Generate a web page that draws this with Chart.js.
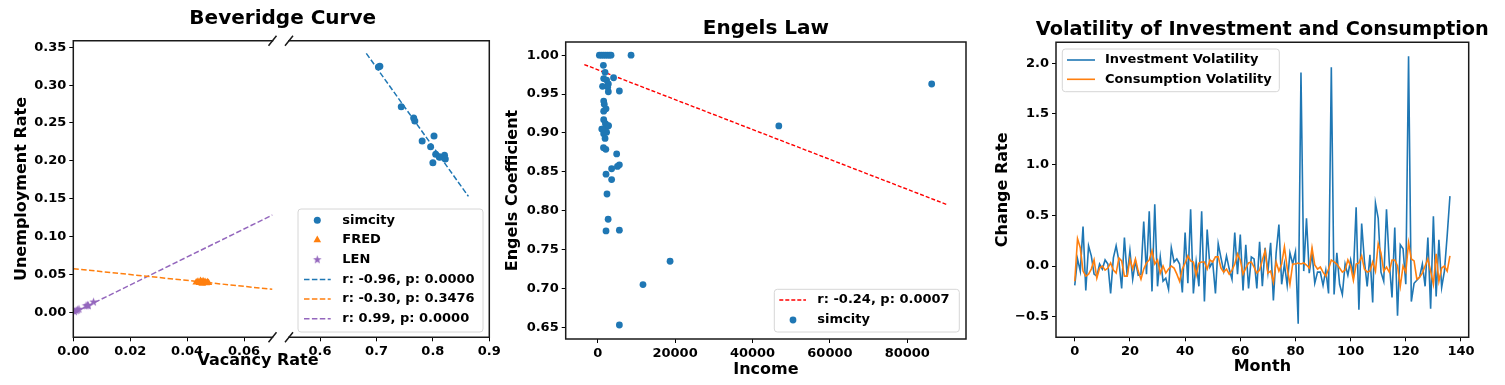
<!DOCTYPE html>
<html>
<head>
<meta charset="utf-8">
<script src="https://cdn.jsdelivr.net/npm/chart.js@4.4.1/dist/chart.umd.min.js"></script>
<style>
  body { margin: 0; background: #fff; }
  #wrap { position: relative; width: 1505px; height: 385px; overflow: hidden; background: #fff; }
  canvas { position: absolute; top: 0; }
</style>
</head>
<body>
<div id="wrap">
  <canvas id="bevLeft" width="510" height="385" style="left:0;width:510px;height:385px"></canvas>
  <canvas id="bevRight" width="510" height="385" style="left:0;width:510px;height:385px"></canvas>
  <canvas id="engels" width="480" height="385" style="left:500px;width:480px;height:385px"></canvas>
  <canvas id="vol" width="520" height="385" style="left:985px;width:520px;height:385px"></canvas>
</div>
<script>
// ---- Beveridge curve data ----
const simcityVacancy = [0.706, 0.7035, 0.744, 0.766, 0.768, 0.781, 0.802, 0.796, 0.805, 0.812, 0.8206, 0.822, 0.800, 0.8113];
const simcityUnemp   = [0.325, 0.324, 0.2716, 0.2566, 0.2527, 0.2263, 0.2329, 0.2187, 0.2087, 0.2047, 0.2074, 0.2025, 0.1976, 0.2055];
const fredVacancy = [0.0432, 0.0438, 0.0443, 0.0447, 0.0450, 0.0453, 0.0456, 0.0460, 0.0463, 0.0467, 0.0471, 0.0475];
const fredUnemp   = [0.0395, 0.0405, 0.0388, 0.0415, 0.0398, 0.0380, 0.0410, 0.0392, 0.0402, 0.0385, 0.0396, 0.0388];
const lenVacancy = [0.0004, 0.0010, 0.0015, 0.0020, 0.0045, 0.0050, 0.0053, 0.0071];
const lenUnemp   = [0.0008, 0.0020, 0.0030, 0.0040, 0.0085, 0.0092, 0.0086, 0.0135];
const simcityFitX = [0.682, 0.863], simcityFitY = [0.342, 0.153];
const fredFitX = [0.0, 0.07], fredFitY = [0.0576, 0.0303];
const lenFitX = [0.0, 0.07], lenFitY = [-0.001, 0.1285];
const bevYTicks = [0.00, 0.05, 0.10, 0.15, 0.20, 0.25, 0.30, 0.35];
const bevLeftXTicks = [0.00, 0.02, 0.04, 0.06];
const bevRightXTicks = [0.6, 0.7, 0.8, 0.9];

// ---- Engels law data ----
const income = [431, 948, 1466, 1983, 2500, 3017, 3448, 8620, 1466, 1900, 4100, 1550, 2300, 2750, 1250, 2600,
  2750, 5600, 1550, 1700, 2150, 1550, 1550, 2000, 2700, 1050, 1900, 2300, 1550, 1900, 1500, 2100, 4900, 5600,
  5100, 3600, 2150, 3600, 2400, 2700, 2150, 5600, 18700, 11700, 5600, 46800, 86300, 2800, 1200];
const engelsCoef = [1.000, 1.000, 1.000, 1.000, 1.000, 1.000, 1.000, 1.000, 0.987, 0.978, 0.971, 0.970, 0.968, 0.963, 0.960, 0.959,
  0.953, 0.954, 0.941, 0.937, 0.931, 0.928, 0.917, 0.912, 0.909, 0.905, 0.904, 0.901, 0.899, 0.893, 0.881, 0.879, 0.873, 0.859,
  0.857, 0.854, 0.847, 0.840, 0.8215, 0.789, 0.774, 0.775, 0.735, 0.705, 0.653, 0.909, 0.963, 0.9095, 0.905];
const engelsFitX = [-3460, 90440], engelsFitY = [0.988, 0.8075];
const engelsXTicks = [0, 20000, 40000, 60000, 80000];
const engelsYTicks = [0.65, 0.70, 0.75, 0.80, 0.85, 0.90, 0.95, 1.00];

// ---- Volatility data (month 0..136) ----
const investmentVol = [
  -0.19, 0.07, -0.05, 0.39, -0.24, 0.20, 0.10, -0.08, -0.10, 0.02,
  -0.03, 0.06, 0.02, -0.27, 0.08, 0.20, 0.05, -0.22, 0.28, -0.10,
  0.15, -0.13, 0.05, -0.09, -0.08, 0.44, -0.08, 0.54, -0.25, 0.61,
  -0.20, 0.09, -0.15, -0.12, -0.23, 0.18, 0.04, 0.07, 0.02, -0.26,
  0.33, -0.17, 0.56, -0.27, 0.04, -0.20, 0.54, -0.35, 0.36, -0.01,
  0.04, -0.27, 0.22, 0.08, -0.05, 0.10, -0.03, -0.13, 0.33, -0.08,
  0.31, -0.24, 0.21, -0.22, 0.09, 0.07, -0.22, 0.24, -0.20, 0.18,
  -0.06, 0.23, -0.34, 0.13, 0.41, -0.18, 0.02, -0.19, 0.13, 0.02,
  0.14, -0.57, 1.91, -0.05, 0.47, -0.07, 0.13, -0.17, -0.06, -0.06,
  -0.19, -0.04, -0.27, 1.96, -0.28, 0.13, -0.18, -0.28, 0.02, -0.09,
  0.06, -0.08, 0.58, -0.43, 0.42, 0.05, -0.20, 0.11, -0.36, 0.62,
  0.47, -0.06, -0.15, 0.56, 0.04, -0.31, 0.38, -0.49, 0.21, 0.17,
  -0.18, 2.07, -0.35, -0.17, -0.14, -0.11, 0.02, -0.20, 0.28, -0.42,
  0.49, -0.30, 0.26, -0.21, -0.05, 0.30, 0.69];
const consumptionVol = [
  -0.15, 0.27, 0.18, -0.05, -0.10, -0.08, -0.03, 0.06, -0.12, -0.02,
  0.00, -0.04, -0.02, 0.03, -0.04, -0.07, 0.08, 0.05, -0.10, -0.10,
  0.07, -0.03, 0.07, -0.05, -0.13, -0.03, 0.03, 0.06, 0.15, 0.02,
  0.06, -0.07, 0.00, -0.07, -0.03, 0.00, -0.02, -0.08, -0.15, -0.03,
  0.03, 0.10, 0.05, 0.04, -0.09, 0.03, 0.04, 0.04, -0.03, 0.06,
  0.04, 0.09, 0.09, -0.02, -0.06, -0.03, -0.08, -0.04, 0.02, 0.12,
  0.06, -0.08, -0.02, 0.03, 0.04, -0.01, -0.07, -0.04, 0.06, 0.15,
  -0.07, -0.05, -0.16, 0.04, -0.05, 0.02, 0.19, -0.02, -0.18, 0.02,
  0.02, 0.03, 0.02, 0.03, 0.01, -0.02, 0.18, 0.01, -0.03, -0.01,
  -0.06, -0.10, -0.03, 0.06, 0.04, 0.02, -0.02, -0.06, -0.04, 0.06,
  0.00, -0.14, 0.02, 0.03, 0.10, -0.03, -0.06, -0.05, 0.04, -0.05,
  0.22, 0.13, -0.05, -0.01, -0.06, 0.06, 0.06, 0.00, -0.20, 0.00,
  -0.06, 0.23, 0.07, 0.05, -0.13, -0.11, -0.07, 0.00, 0.07, -0.05,
  -0.18, 0.12, -0.15, -0.02, 0.00, -0.05, 0.10];
const months = investmentVol.map((_, i) => i);
const volXTicks = [0, 20, 40, 60, 80, 100, 120, 140];
const volYTicks = [-0.5, 0.0, 0.5, 1.0, 1.5, 2.0];

// ---- styling ----
const FONT = "'DejaVu Sans', sans-serif";
Chart.defaults.font.family = FONT;
Chart.defaults.font.weight = 'bold';
Chart.defaults.color = '#000';
const BLUE = '#1f77b4', ORANGE = '#ff7f0e', PURPLE = '#9467bd', RED = '#ff0000';

function starImage(color, r) {
  const c = document.createElement('canvas');
  const s = Math.ceil(r * 2 + 2);
  c.width = s; c.height = s;
  const g = c.getContext('2d');
  g.translate(s / 2, s / 2);
  g.beginPath();
  for (let i = 0; i < 10; i++) {
    const rr = i % 2 ? r * 0.42 : r;
    const a = -Math.PI / 2 + i * Math.PI / 5;
    g.lineTo(Math.cos(a) * rr, Math.sin(a) * rr);
  }
  g.closePath();
  g.fillStyle = color;
  g.fill();
  return c;
}
const starPurple = starImage(PURPLE, 4.5);

const toPts = (xs, ys) => xs.map((x, i) => ({ x: x, y: ys[i] }));

function scatterDs(label, xs, ys, color, style, r) {
  return { label, data: toPts(xs, ys), showLine: false, pointStyle: style, pointRadius: r,
    backgroundColor: color, borderColor: color, pointBorderWidth: 0, borderWidth: 0, order: 1 };
}
function lineDs(label, xs, ys, color, width, dash) {
  return { label, data: toPts(xs, ys), showLine: true, pointRadius: 0, borderColor: color,
    backgroundColor: color, borderWidth: width, borderDash: dash, fill: false, tension: 0, order: 2 };
}

function linearAxis(o) {
  return {
    type: 'linear', min: o.min, max: o.max, display: o.display !== false,
    afterBuildTicks: s => { s.ticks = o.ticks.map(v => ({ value: v })); },
    afterFit: s => { if (s.isHorizontal()) s.height = o.size; else s.width = o.size; },
    ticks: { autoSkip: false, maxRotation: 0, minRotation: 0, padding: o.tickPad || 3, color: '#000',
      font: { size: 13, weight: 'bold' }, callback: v => o.format(v) },
    grid: { display: true, drawOnChartArea: false, drawTicks: true, tickLength: 4, color: '#000', lineWidth: 1 },
    border: { display: false },
    title: o.title ? { display: true, text: o.title, color: '#000', font: { size: 16, weight: 'bold' }, padding: o.titlePad }
                   : { display: false }
  };
}
const minus = s => s.replace('-', '\u2212');

function makeFrame(cfg) {
  return {
    id: 'frame',
    afterDraw(chart) {
      const { ctx, chartArea: a } = chart;
      const s = cfg.sides || 'tlbr';
      ctx.save();
      ctx.strokeStyle = '#1a1a1a';
      ctx.lineWidth = 1.5;
      ctx.lineCap = 'square';
      ctx.beginPath();
      if (s.includes('t')) { ctx.moveTo(a.left, a.top); ctx.lineTo(a.right, a.top); }
      if (s.includes('b')) { ctx.moveTo(a.left, a.bottom); ctx.lineTo(a.right, a.bottom); }
      if (s.includes('l')) { ctx.moveTo(a.left, a.top); ctx.lineTo(a.left, a.bottom); }
      if (s.includes('r')) { ctx.moveTo(a.right, a.top); ctx.lineTo(a.right, a.bottom); }
      ctx.stroke();
      if (cfg.breakSide) {
        const x = cfg.breakSide === 'right' ? a.right : a.left;
        ctx.lineCap = 'butt';
        ctx.beginPath();
        [a.top, a.bottom].forEach(y => { ctx.moveTo(x - 4, y + 5); ctx.lineTo(x + 4, y - 5); });
        ctx.stroke();
      }
      (cfg.texts || []).forEach(t => {
        ctx.font = 'bold ' + t.size + 'px ' + FONT;
        ctx.fillStyle = '#000';
        ctx.textAlign = 'center';
        ctx.textBaseline = 'middle';
        ctx.fillText(t.text, t.x, t.y);
      });
      ctx.restore();
    }
  };
}

function makeLegend(cfg) {
  return {
    id: 'boxLegend',
    afterDraw(chart) {
      const ctx = chart.ctx;
      ctx.save();
      const { x, y, w, h } = cfg.box, r = 3;
      ctx.beginPath();
      ctx.moveTo(x + r, y);
      ctx.arcTo(x + w, y, x + w, y + h, r);
      ctx.arcTo(x + w, y + h, x, y + h, r);
      ctx.arcTo(x, y + h, x, y, r);
      ctx.arcTo(x, y, x + w, y, r);
      ctx.closePath();
      ctx.fillStyle = 'rgba(255,255,255,0.8)';
      ctx.fill();
      ctx.strokeStyle = '#d6d6d6';
      ctx.lineWidth = 1;
      ctx.stroke();
      ctx.font = 'bold 13px ' + FONT;
      ctx.textAlign = 'left';
      ctx.textBaseline = 'middle';
      cfg.items.forEach((ds, i) => {
        const ry = cfg.y0 + i * cfg.rowH;
        if (ds.showLine) {
          ctx.strokeStyle = ds.borderColor;
          ctx.lineWidth = ds.borderWidth;
          ctx.setLineDash(ds.borderDash || []);
          ctx.beginPath();
          ctx.moveTo(cfg.lineX0, ry);
          ctx.lineTo(cfg.lineX1, ry);
          ctx.stroke();
          ctx.setLineDash([]);
        } else if (typeof ds.pointStyle === 'object') {
          const im = ds.pointStyle;
          ctx.drawImage(im, cfg.markX - im.width / 2, ry - im.height / 2);
        } else {
          ctx.fillStyle = ds.backgroundColor;
          ctx.beginPath();
          const rr = ds.pointRadius;
          if (ds.pointStyle === 'triangle') {
            for (let k = 0; k < 3; k++) {
              const a = -Math.PI / 2 + k * 2 * Math.PI / 3;
              ctx.lineTo(cfg.markX + Math.cos(a) * rr, ry + Math.sin(a) * rr);
            }
            ctx.closePath();
          } else {
            ctx.arc(cfg.markX, ry, rr, 0, Math.PI * 2);
          }
          ctx.fill();
        }
        ctx.fillStyle = '#000';
        ctx.fillText(ds.label, cfg.textX, ry);
      });
      ctx.restore();
    }
  };
}

// ---- Beveridge curve (broken x axis: two overlaid charts) ----
const dsSimcity = scatterDs('simcity', simcityVacancy, simcityUnemp, BLUE, 'circle', 3.5);
const dsFred = scatterDs('FRED', fredVacancy, fredUnemp, ORANGE, 'triangle', 4.4);
const dsLen = scatterDs('LEN', lenVacancy, lenUnemp, PURPLE, starPurple, 4);
const dsSimFit = lineDs('r: -0.96, p: 0.0000', simcityFitX, simcityFitY, BLUE, 1.5, [5.5, 2.4]);
const dsFredFit = lineDs('r: -0.30, p: 0.3476', fredFitX, fredFitY, ORANGE, 1.5, [5.5, 2.4]);
const dsLenFit = lineDs('r: 0.99, p: 0.0000', lenFitX, lenFitY, PURPLE, 1.5, [5.5, 2.4]);

const bevY = { min: -0.0331, max: 0.3587, ticks: bevYTicks, format: v => v.toFixed(2) };

new Chart(document.getElementById('bevLeft'), {
  type: 'scatter',
  data: { datasets: [dsFred, dsLen, dsFredFit, dsLenFit] },
  options: {
    responsive: false, animation: false,
    layout: { padding: { top: 40.7, left: 0, right: 237.5, bottom: 0 } },
    plugins: { legend: { display: false }, tooltip: { enabled: false } },
    scales: {
      x: linearAxis({ min: 0, max: 0.07, ticks: bevLeftXTicks, format: v => v.toFixed(2), size: 47.7 }),
      y: linearAxis(Object.assign({}, bevY, { size: 73.3, title: 'Unemployment Rate', titlePad: { top: 12, bottom: 0 } }))
    }
  },
  plugins: [makeFrame({ sides: 'tlb', breakSide: 'right' })]
});

new Chart(document.getElementById('bevRight'), {
  type: 'scatter',
  data: { datasets: [dsSimcity, dsSimFit] },
  options: {
    responsive: false, animation: false,
    layout: { padding: { top: 40.7, left: 289, right: 20.7, bottom: 0 } },
    plugins: { legend: { display: false }, tooltip: { enabled: false } },
    scales: {
      x: linearAxis({ min: 0.545, max: 0.9, ticks: bevRightXTicks, format: v => v.toFixed(1), size: 47.7 }),
      y: linearAxis(Object.assign({}, bevY, { display: false, size: 0 }))
    }
  },
  plugins: [
    makeFrame({ sides: 'trb', breakSide: 'left', texts: [
      { text: 'Beveridge Curve', x: 282.7, y: 18.5, size: 20 },
      { text: 'Vacancy Rate', x: 258, y: 361, size: 16 }
    ] }),
    makeLegend({ box: { x: 298, y: 209, w: 185, h: 123 }, y0: 220.3, rowH: 19.7,
      markX: 317.3, lineX0: 304, lineX1: 330.7, textX: 342.3,
      items: [dsSimcity, dsFred, dsLen, dsSimFit, dsFredFit, dsLenFit] })
  ]
});

// ---- Engels law ----
const dsEngFit = lineDs('r: -0.24, p: 0.0007', engelsFitX, engelsFitY, RED, 1.4, [4, 2]);
const dsEngPts = scatterDs('simcity', income, engelsCoef, BLUE, 'circle', 3.4);

new Chart(document.getElementById('engels'), {
  type: 'scatter',
  data: { datasets: [dsEngFit, dsEngPts] },
  options: {
    responsive: false, animation: false,
    layout: { padding: { top: 0, left: 0, right: 14, bottom: 0 } },
    plugins: {
      legend: { display: false }, tooltip: { enabled: false },
      title: { display: true, text: 'Engels Law', fullSize: false, color: '#000',
        font: { size: 20, weight: 'bold' }, padding: { top: 17, bottom: 1 } }
    },
    scales: {
      x: linearAxis({ min: -8269, max: 95168, ticks: engelsXTicks, format: v => String(v), size: 46,
        title: 'Income', titlePad: { top: 0, bottom: 6 } }),
      y: linearAxis({ min: 0.635, max: 1.017, ticks: engelsYTicks, format: v => v.toFixed(2), size: 65.7,
        title: 'Engels Coefficient', titlePad: { top: 3.7, bottom: 0 } })
    }
  },
  plugins: [makeFrame({}),
    makeLegend({ box: { x: 274.3, y: 289.3, w: 185, h: 42.7 }, y0: 300, rowH: 20,
      markX: 293, lineX0: 279.3, lineX1: 306, textX: 317.3, items: [dsEngFit, dsEngPts] })]
});

// ---- Volatility ----
const dsInv = lineDs('Investment Volatility', months, investmentVol, BLUE, 1.6, []);
dsInv.order = 2;
const dsCons = lineDs('Consumption Volatility', months, consumptionVol, ORANGE, 1.6, []);
dsCons.order = 1;

new Chart(document.getElementById('vol'), {
  type: 'scatter',
  data: { datasets: [dsInv, dsCons] },
  options: {
    responsive: false, animation: false,
    layout: { padding: { top: 42.3, left: 0, right: 36.3, bottom: 0 } },
    plugins: { legend: { display: false }, tooltip: { enabled: false } },
    scales: {
      x: linearAxis({ min: -6.8, max: 142.8, ticks: volXTicks, format: v => String(v), size: 47.7,
        title: 'Month', titlePad: { top: 0, bottom: 8.7 } }),
      y: linearAxis({ min: -0.703, max: 2.207, ticks: volYTicks, format: v => minus(v.toFixed(1)), size: 71,
        title: 'Change Rate', titlePad: { top: 8.7, bottom: 0 } })
    }
  },
  plugins: [
    makeFrame({ texts: [{ text: 'Volatility of Investment and Consumption', x: 277.3, y: 30, size: 19.3 }] }),
    makeLegend({ box: { x: 77.3, y: 49, w: 217, h: 42.7 }, y0: 60, rowH: 19.3,
      markX: 96, lineX0: 82, lineX1: 110, textX: 120, items: [dsInv, dsCons] })]
});
</script>
</body>
</html>
